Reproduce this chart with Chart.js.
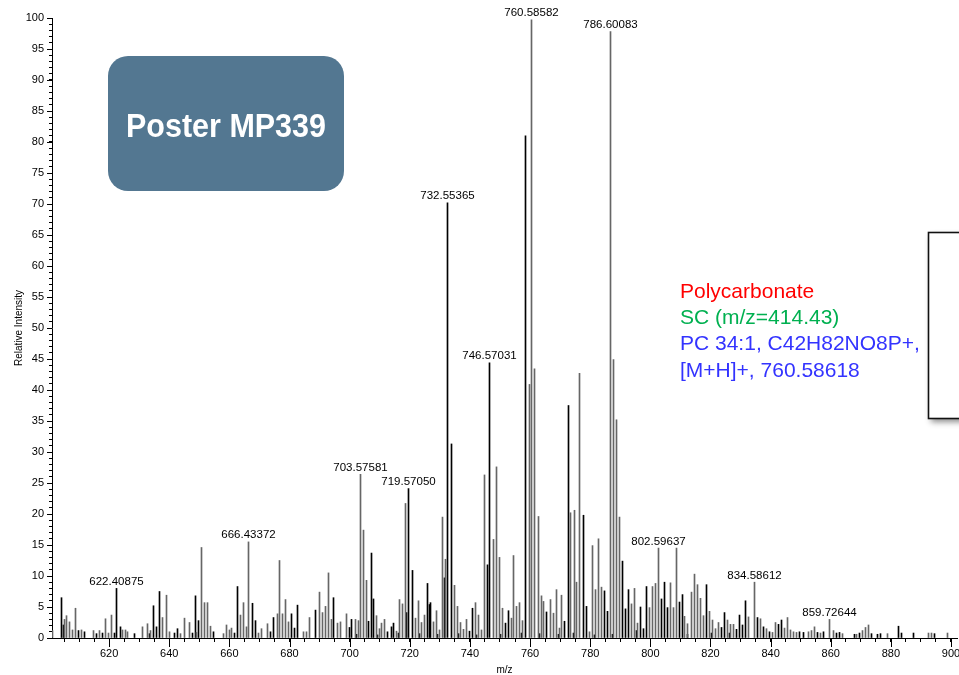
<!DOCTYPE html>
<html>
<head>
<meta charset="utf-8">
<script src="https://cdn.jsdelivr.net/npm/chart.js@4.4.0/dist/chart.umd.min.js"></script>
<style>
  html, body { margin: 0; padding: 0; background: #fff; }
  #wrap { width: 959px; height: 675px; position: relative; }
</style>
</head>
<body>
<div id="wrap"><canvas id="spectrum"></canvas></div>
<script>
// black trace: m/z and relative intensity
const blackMz = [604.1, 604.8, 609.9, 611.7, 615.9, 617.7, 621.8, 622.40875, 623.8, 628.6, 633.5, 634.7, 635.7, 636.7,
  641.7, 642.7, 647.8, 648.7, 649.8, 654.8, 661.7, 662.7, 667.7, 668.7, 673.8, 674.6, 680.8, 681.8, 682.8, 688.6,
  694.6, 699.8, 700.7, 702.3, 706.2, 707.1, 707.9, 709.3, 712.7, 713.9, 714.7, 716.3, 719.0, 719.57050, 720.9, 723.3,
  725.9, 726.6, 727.0, 729.3, 731.6, 732.55365, 733.9, 736.3, 739.8, 740.8, 742.3, 745.8, 746.57031, 750.3, 751.9,
  752.9, 757.3, 758.6, 763.3, 765.6, 769.3, 771.6, 772.8, 774.3, 777.9, 778.7, 781.3, 784.8, 785.6, 787.3, 790.8,
  791.8, 792.8, 795.3, 796.6, 797.6, 798.8, 803.6, 804.8, 805.8, 809.6, 810.7, 812.3, 818.7, 820.3, 823.7, 824.7,
  826.3, 828.7, 829.8, 830.8, 831.7, 835.7, 837.7, 839.7, 842.7, 843.7, 849.7, 850.8, 855.6, 857.6, 861.8, 862.8,
  867.8, 869.6, 873.6, 875.6, 876.6, 882.6, 883.6, 887.5, 894.6];
const blackInt = [6.5, 2.1, 1.2, 1.0, 0.7, 0.8, 0.8, 8.0, 1.8, 0.7, 0.7, 5.2, 1.8, 7.5,
  0.8, 1.5, 0.8, 6.8, 2.8, 1.0, 0.8, 8.3, 5.6, 2.8, 1.0, 3.3, 3.9, 1.6, 5.3, 4.5,
  6.5, 1.7, 3.0, 0.6, 2.7, 13.7, 6.3, 0.5, 1.0, 1.8, 2.4, 0.8, 4.1, 24.1, 10.9, 0.7,
  8.8, 5.4, 5.7, 0.6, 9.7, 70.2, 31.3, 0.7, 1.1, 4.8, 0.5, 11.8, 44.4, 0.6, 2.4,
  4.4, 0.8, 81.0, 0.7, 4.2, 0.6, 2.7, 37.5, 0.8, 19.8, 5.1, 0.5, 7.6, 4.3, 0.6, 12.4,
  4.7, 7.8, 1.2, 5.0, 1.5, 8.3, 6.3, 9.0, 4.9, 5.8, 7.0, 0.6, 8.6, 0.8, 1.7, 4.1,
  0.8, 1.4, 3.7, 2.1, 6.0, 3.3, 1.8, 1.0, 2.2, 2.9, 1.0, 0.9, 0.9, 1.0, 0.8, 0.9,
  0.6, 0.8, 0.7, 0.6, 0.7, 1.9, 0.8, 0.8, 0.7];

// grey trace: m/z and relative intensity
const greyMz = [601.3, 605.1, 605.9, 606.9, 607.8, 608.9, 610.8, 614.9, 616.8, 618.9, 619.9, 620.9, 624.5, 625.3,
  626.0, 631.0, 632.9, 633.9, 637.8, 639.0, 640.0, 643.6, 645.0, 646.8, 649.2, 650.8, 651.8, 652.8, 653.8, 657.9,
  658.9, 659.9, 660.6, 663.8, 664.8, 665.8, 666.43372, 669.7, 670.8, 672.8, 675.9, 676.8, 677.8, 678.8, 679.8,
  684.8, 685.8, 686.8, 689.9, 690.9, 691.9, 692.8, 694.1, 695.8, 696.8, 698.8, 701.8, 702.8, 703.57581, 704.6,
  705.6, 708.8, 709.8, 710.7, 711.7, 715.7, 716.7, 717.7, 718.6, 721.8, 722.8, 723.8, 724.8, 727.8, 728.8, 729.8,
  730.8, 731.9, 734.9, 735.8, 736.8, 737.8, 738.8, 741.8, 742.8, 743.8, 744.7, 747.8, 748.7, 749.7, 750.7, 753.7,
  754.5, 755.6, 756.5, 757.5, 759.7, 760.58582, 761.6, 762.7, 763.7, 764.6, 766.7, 767.7, 768.7, 769.7, 770.6,
  773.6, 774.7, 775.6, 776.6, 779.7, 780.7, 781.7, 782.6, 783.6, 786.60083, 787.7, 788.6, 789.9, 793.7, 794.7,
  795.7, 799.8, 800.7, 801.7, 802.59637, 806.7, 807.6, 808.6, 811.5, 812.5, 813.6, 814.6, 815.7, 816.7, 817.7,
  819.7, 820.6, 821.6, 822.6, 825.7, 826.7, 827.7, 832.7, 834.58612, 836.6, 838.7, 840.7, 841.7, 844.7, 845.7,
  846.7, 847.7, 848.7, 852.7, 853.7, 854.6, 856.6, 859.72644, 860.8, 863.8, 868.7, 870.6, 871.6, 872.7, 878.9,
  892.6, 893.5, 898.9];
const greyInt = [1.2, 3.0, 3.6, 2.6, 1.3, 4.8, 1.3, 1.2, 1.2, 3.1, 0.8, 3.7, 1.3, 1.3,
  1.0, 1.8, 2.3, 1.2, 3.3, 6.9, 1.0, 0.7, 3.2, 2.5, 0.9, 14.6, 5.7, 5.7, 1.9, 0.7,
  2.1, 1.3, 1.6, 3.7, 5.7, 1.8, 15.5, 0.8, 1.5, 2.3, 3.9, 12.5, 3.9, 6.2, 2.6,
  1.0, 1.0, 3.3, 7.4, 4.1, 5.1, 10.5, 3.0, 2.4, 2.6, 3.9, 3.0, 2.8, 26.4, 17.4,
  9.3, 3.6, 1.5, 2.4, 3.0, 1.1, 6.2, 5.5, 21.7, 3.2, 6.0, 2.5, 3.7, 2.6, 4.4, 1.3,
  19.5, 12.7, 8.5, 5.1, 2.5, 1.4, 3.0, 5.7, 3.7, 1.3, 26.3, 15.9, 27.6, 13.0, 4.8, 3.2,
  13.3, 5.1, 5.7, 2.8, 40.9, 99.7, 43.4, 19.6, 6.8, 5.9, 6.2, 4.0, 7.8, 1.6, 6.9,
  20.2, 20.6, 9.0, 42.7, 1.0, 14.9, 7.8, 16.0, 8.2, 97.8, 44.9, 35.2, 19.5, 5.5, 8.0,
  2.4, 4.9, 8.3, 8.8, 14.5, 8.9, 4.9, 14.5, 3.5, 2.3, 7.4, 10.3, 8.6, 6.4, 3.6,
  4.3, 2.9, 1.5, 2.5, 2.9, 2.2, 2.2, 3.4, 9.0, 3.1, 1.5, 0.9, 2.5, 1.6, 3.3,
  1.3, 1.0, 0.9, 1.0, 1.2, 1.8, 0.8, 3.0, 1.2, 0.7, 0.6, 1.2, 1.7, 2.1, 0.7,
  0.8, 0.8, 0.8];

// peaks that carry an m/z label
const labelledMz = [622.40875, 666.43372, 703.57581, 719.57050, 732.55365, 746.57031,
  760.58582, 786.60083, 802.59637, 834.58612, 859.72644];

const noteLines = [
  { text: 'Polycarbonate', color: '#ff0000' },
  { text: 'SC (m/z=414.43)', color: '#00b050' },
  { text: 'PC 34:1, C42H82NO8P+,', color: '#3333ff' },
  { text: '[M+H]+, 760.58618', color: '#3333ff' }
];
const posterText = 'Poster MP339';

const FONT = "'Liberation Sans', Arial, sans-serif";
Chart.defaults.font.family = FONT;
Chart.defaults.color = '#000';

function toPoints(xs, ys) {
  return xs.map((x, i) => ({ x: x, y: ys[i] }));
}

function roundRect(ctx, x, y, w, h, r) {
  ctx.beginPath();
  ctx.moveTo(x + r, y);
  ctx.arcTo(x + w, y, x + w, y + h, r);
  ctx.arcTo(x + w, y + h, x, y + h, r);
  ctx.arcTo(x, y + h, x, y, r);
  ctx.arcTo(x, y, x + w, y, r);
  ctx.closePath();
}

// keep the 1px sticks on whole pixels so they stay sharp
const snapSticks = {
  id: 'snapSticks',
  beforeDatasetsDraw(chart) {
    chart.data.datasets.forEach((ds, i) => {
      chart.getDatasetMeta(i).data.forEach(el => {
        el.x = Math.round(el.x - 0.5) + 0.5;
      });
    });
  }
};

const extras = {
  id: 'extras',
  afterDraw(chart) {
    const ctx = chart.ctx;
    const xs = chart.scales.x, ys = chart.scales.y;
    ctx.save();

    // longer major ticks
    ctx.strokeStyle = '#000';
    ctx.lineWidth = 1;
    ctx.beginPath();
    ys.ticks.forEach(t => {
      if (t.value % 5 === 0) {
        const py = Math.round(ys.getPixelForValue(t.value)) + 0.5;
        ctx.moveTo(ys.right - 5, py);
        ctx.lineTo(ys.right, py);
      }
    });
    xs.ticks.forEach(t => {
      if (Math.abs(t.value % 20) < 1e-6) {
        const px = Math.round(xs.getPixelForValue(t.value)) + 0.5;
        ctx.moveTo(px, xs.top);
        ctx.lineTo(px, xs.top + 9);
      }
    });
    ctx.stroke();

    // peak labels
    ctx.fillStyle = '#000';
    ctx.font = '11.5px ' + FONT;
    ctx.textAlign = 'center';
    ctx.textBaseline = 'alphabetic';
    chart.data.datasets.forEach((ds, i) => {
      const meta = chart.getDatasetMeta(i);
      ds.data.forEach((p, j) => {
        if (labelledMz.indexOf(p.x) >= 0) {
          const el = meta.data[j];
          ctx.fillText(p.x.toFixed(5), el.x, el.y - 3.5);
        }
      });
    });

    // poster badge
    ctx.fillStyle = '#537791';
    roundRect(ctx, 108, 56, 236, 135, 20);
    ctx.fill();
    ctx.fillStyle = '#ffffff';
    ctx.font = 'bold 34px ' + FONT;
    ctx.textAlign = 'center';
    ctx.fillText(posterText, 226, 137, 200);

    // coloured notes
    ctx.font = '21px ' + FONT;
    ctx.textAlign = 'left';
    noteLines.forEach((l, i) => {
      ctx.fillStyle = l.color;
      ctx.fillText(l.text, 680, 298 + i * 26.2);
    });

    // cut-off inset box at the right edge
    ctx.save();
    ctx.shadowColor = 'rgba(0,0,0,0.45)';
    ctx.shadowBlur = 6;
    ctx.shadowOffsetX = 3;
    ctx.shadowOffsetY = 4;
    ctx.fillStyle = '#fff';
    ctx.fillRect(928, 232, 60, 186);
    ctx.restore();
    ctx.strokeStyle = '#111';
    ctx.lineWidth = 1.6;
    ctx.strokeRect(928.5, 232.5, 60, 186);

    ctx.restore();
  }
};

new Chart(document.getElementById('spectrum'), {
  type: 'bar',
  data: {
    datasets: [
      { label: 'grey', data: toPoints(greyMz, greyInt), backgroundColor: '#666666',
        barThickness: 1, grouped: false, borderWidth: 0 },
      { label: 'black', data: toPoints(blackMz, blackInt), backgroundColor: '#000000',
        barThickness: 1, grouped: false, borderWidth: 0 }
    ]
  },
  options: {
    responsive: true,
    maintainAspectRatio: false,
    animation: false,
    devicePixelRatio: 1,
    layout: { padding: { top: 18, left: 0, right: 2, bottom: 0 } },
    plugins: { legend: { display: false }, tooltip: { enabled: false } },
    scales: {
      x: {
        type: 'linear',
        min: 601,
        max: 902,
        offset: false,
        border: { display: true, color: '#000', width: 1 },
        grid: { drawOnChartArea: false, drawTicks: true, tickLength: 4, tickColor: '#000', offset: false },
        ticks: {
          stepSize: 5, includeBounds: false, autoSkip: false, maxRotation: 0, minRotation: 0,
          padding: 5, font: { size: 11 },
          callback: v => (Math.abs(v % 20) < 1e-6 ? v : '')
        },
        title: { display: true, text: 'm/z', font: { size: 10, lineHeight: 1 }, padding: 0 },
        afterFit: s => { s.height = 37; s.paddingLeft = 0; s.paddingRight = 0; }
      },
      y: {
        min: 0,
        max: 100,
        border: { display: true, color: '#000', width: 1 },
        grid: { drawOnChartArea: false, drawTicks: true, tickLength: 3, tickColor: '#000' },
        ticks: {
          stepSize: 1, autoSkip: false, padding: 5, font: { size: 11 },
          callback: v => (v % 5 === 0 ? v : '')
        },
        title: { display: true, text: 'Relative Intensity', font: { size: 10 }, padding: { top: 13, bottom: 0 } },
        afterFit: s => { s.width = 52; }
      }
    }
  },
  plugins: [snapSticks, extras]
});
</script>
</body>
</html>
